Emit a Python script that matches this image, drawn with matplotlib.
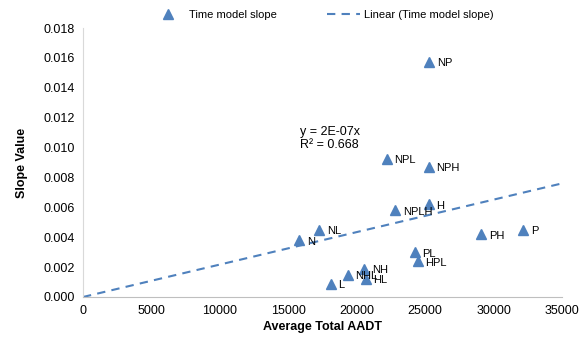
import numpy as np
import matplotlib
matplotlib.use("Agg")
import matplotlib.pyplot as plt

plt.rcParams['font.family'] = ['Liberation Sans', 'DejaVu Sans']

# scenario labels, AADT and fitted slope for each model
labels = ['NP', 'NPL', 'NPH', 'NPLH', 'H', 'NL', 'N', 'PH', 'P',
          'PL', 'HPL', 'NH', 'NHL', 'HL', 'L']
aadt = [25300, 22200, 25250, 22800, 25250, 17250, 15800, 29100, 32150,
        24250, 24450, 20550, 19350, 20650, 18100]
slope = [0.01575, 0.00925, 0.0087, 0.0058, 0.0062, 0.0045, 0.0038, 0.0042, 0.0045,
         0.0030, 0.0024, 0.0019, 0.0015, 0.0012, 0.0009]

xticks = [0, 5000, 10000, 15000, 20000, 25000, 30000, 35000]
yticks = [0.000, 0.002, 0.004, 0.006, 0.008, 0.010, 0.012, 0.014, 0.016, 0.018]

blue = '#4F81BD'

x = np.array(aadt, dtype=float)
y = np.array(slope)
# linear trend forced through the origin
k = np.sum(x * y) / np.sum(x * x)
r2 = 0.668

fig = plt.figure(figsize=(5.87, 3.47), dpi=100)
ax = fig.add_axes([0.1414, 0.1441, 0.816, 0.7752])

ax.plot(x, y, linestyle='none', marker='^', markersize=7, color=blue,
        label='Time model slope')
xl = np.array([0, 35000])
ax.plot(xl, k * xl, linestyle=(0, (4, 3)), linewidth=1.5, color=blue,
        label='Linear (Time model slope)')

for lab, xi, yi in zip(labels, x, y):
    ax.annotate(lab, (xi, yi), xytext=(5.5, -1), textcoords='offset points',
                fontsize=8, va='center', ha='left')

ax.text(15850, 0.0106, 'y = 2E-07x\nR² = %.3f' % r2, fontsize=9,
        va='center', ha='left', linespacing=1.15)

ax.set_xlim(0, 35000)
ax.set_ylim(0, 0.018)
ax.set_xticks(xticks)
ax.set_yticks(yticks)
ax.set_yticklabels(['%.3f' % v for v in yticks])
ax.tick_params(length=0, labelsize=9, pad=6)
for s in ['top', 'right']:
    ax.spines[s].set_visible(False)
ax.spines['left'].set_color('#D9D9D9')
ax.spines['bottom'].set_color('#BFBFBF')

ax.set_xlabel('Average Total AADT', fontsize=9, fontweight='bold', labelpad=3)
ax.set_ylabel('Slope Value', fontsize=9, fontweight='bold', labelpad=11)

ax.legend(loc='lower center', bbox_to_anchor=(0.5, 1.0), ncol=2, frameon=False,
          fontsize=8, handlelength=3, handletextpad=0.4, columnspacing=4.5,
          borderaxespad=0.3)

fig.savefig('out.png', dpi=100)
